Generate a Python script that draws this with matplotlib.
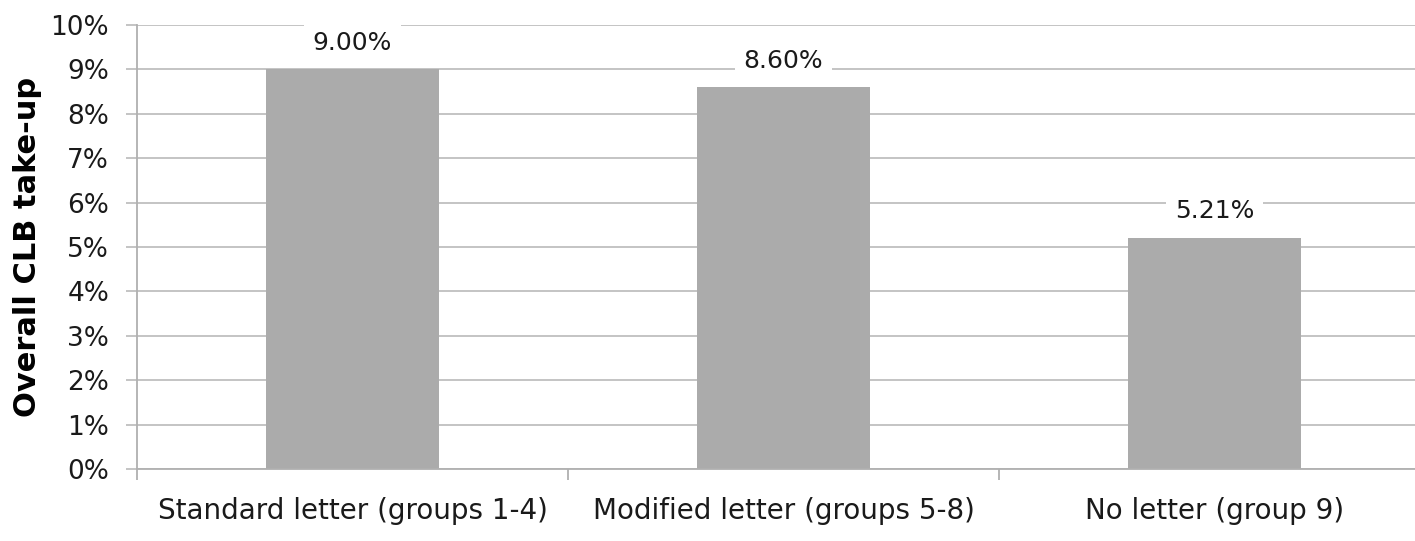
import matplotlib.pyplot as plt
import numpy as np

# CLB take-up by letter condition
categories = ['Standard letter (groups 1-4)', 'Modified letter (groups 5-8)', 'No letter (group 9)']
takeup = [9.00, 8.60, 5.21]
y_ticks = [0, 1, 2, 3, 4, 5, 6, 7, 8, 9, 10]

plt.rcParams['font.family'] = ['DejaVu Sans']

fig = plt.figure(figsize=(14.15, 5.41), dpi=100)
ax = fig.add_axes([0.0968, 0.1331, 0.9032, 0.8207])

x = np.arange(len(categories))
bars = ax.bar(x, takeup, width=0.4, color='#ABABAB', zorder=2)

# value labels sit on white boxes that hide the gridlines behind them
for xi, v in zip(x, takeup):
    ax.annotate(f'{v:.2f}%', (xi, v), xytext=(0, 19), textcoords='offset points',
                ha='center', va='center', fontsize=18, color='#1a1a1a', zorder=3,
                bbox=dict(boxstyle='square,pad=0.35', fc='white', ec='none'))

ax.set_ylim(0, 10)
ax.set_yticks(y_ticks)
ax.set_yticklabels([f'{t}%' for t in y_ticks])
ax.set_xlim(-0.5, 2.465)
ax.set_xticks([-0.5, 0.5, 1.5], minor=False)
ax.set_xticklabels([])
ax.set_xticks(x, minor=True)
ax.set_xticklabels(categories, minor=True)

ax.grid(axis='y', color='#C4C4C4', linewidth=1.4, zorder=0)
for side in ['top', 'right']:
    ax.spines[side].set_visible(False)
ax.spines['left'].set_color('#B0B0B0')
ax.spines['bottom'].set_color('#B0B0B0')
ax.spines['left'].set_linewidth(1.3)
ax.spines['bottom'].set_linewidth(1.3)

ax.tick_params(axis='y', length=8, width=1.4, color='#C4C4C4', labelsize=19, pad=12, labelcolor='#1a1a1a')
ax.tick_params(axis='x', which='major', length=8, width=1.3, color='#B0B0B0')
ax.tick_params(axis='x', which='minor', length=0, labelsize=20, pad=20, labelcolor='#1a1a1a')

ax.set_ylabel('Overall CLB take-up', fontsize=22, fontweight='bold', labelpad=6)

fig.savefig('out.png', dpi=100)
